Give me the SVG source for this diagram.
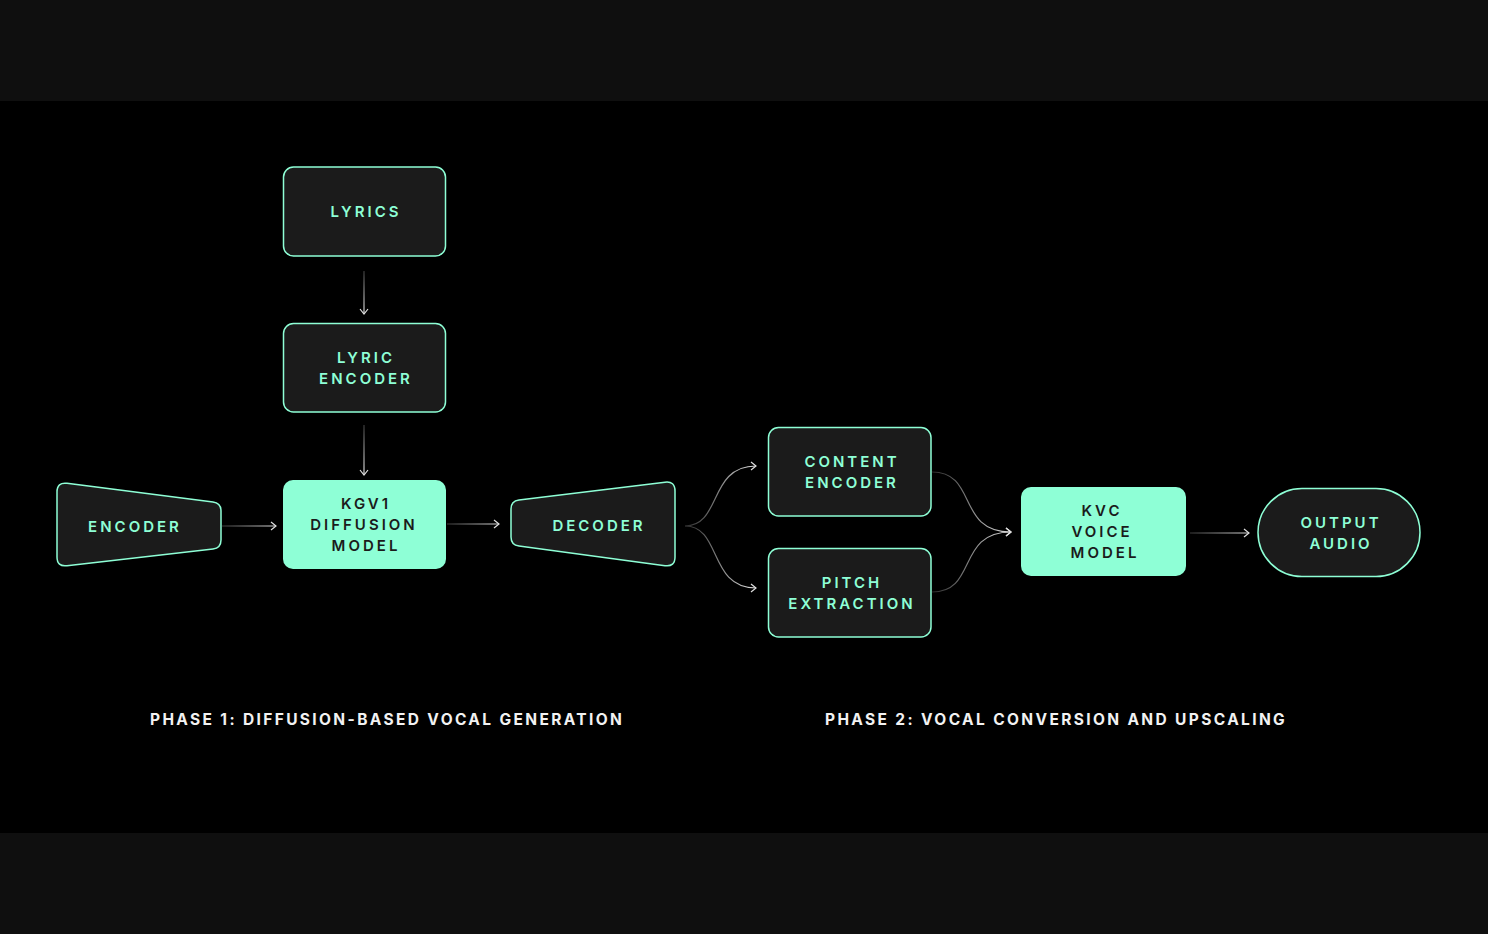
<svg xmlns="http://www.w3.org/2000/svg" width="1488" height="934" viewBox="0 0 1488 934">
<style>
.dark{fill:#1b1b1b;stroke:#8effd6;stroke-width:1.5}
.mint{fill:#8effd6;stroke:none}
.t{font-family:Inter,"Liberation Sans",sans-serif;font-weight:600;font-size:15px;letter-spacing:3px;text-anchor:middle}
.tm{fill:#8effd6}
.td{fill:#1b1b1b}
.ph{font-family:Inter,"Liberation Sans",sans-serif;font-weight:700;font-size:15.5px;letter-spacing:2.36px;fill:#f2f2f2}
.c{fill:none;stroke-width:1.2}
</style>
<defs>
<marker id="ah" viewBox="0 0 10 10" refX="9" refY="5" markerWidth="10" markerHeight="10" markerUnits="userSpaceOnUse" orient="auto">
<path d="M4,1 L9,5 L4,9" fill="none" stroke="#e0e0e0" stroke-width="1.2"/>
</marker>
<linearGradient id="g1" gradientUnits="userSpaceOnUse" x1="364" y1="271" x2="364" y2="314"><stop offset="0" stop-color="#3a3a3a"/><stop offset="1" stop-color="#e0e0e0"/></linearGradient>
<linearGradient id="g2" gradientUnits="userSpaceOnUse" x1="364" y1="425" x2="364" y2="475"><stop offset="0" stop-color="#3a3a3a"/><stop offset="1" stop-color="#e0e0e0"/></linearGradient>
<linearGradient id="g3" gradientUnits="userSpaceOnUse" x1="222" y1="526" x2="276" y2="526"><stop offset="0" stop-color="#3a3a3a"/><stop offset="1" stop-color="#e0e0e0"/></linearGradient>
<linearGradient id="g4" gradientUnits="userSpaceOnUse" x1="447" y1="524" x2="499" y2="524"><stop offset="0" stop-color="#3a3a3a"/><stop offset="1" stop-color="#e0e0e0"/></linearGradient>
<linearGradient id="g5" gradientUnits="userSpaceOnUse" x1="685" y1="0" x2="756" y2="0"><stop offset="0" stop-color="#2a2a2a"/><stop offset="1" stop-color="#e0e0e0"/></linearGradient>
<linearGradient id="g6" gradientUnits="userSpaceOnUse" x1="932" y1="0" x2="1011" y2="0"><stop offset="0" stop-color="#2a2a2a"/><stop offset="1" stop-color="#e0e0e0"/></linearGradient>
<linearGradient id="g7" gradientUnits="userSpaceOnUse" x1="1190" y1="533" x2="1249" y2="533"><stop offset="0" stop-color="#3a3a3a"/><stop offset="1" stop-color="#e0e0e0"/></linearGradient>
</defs>
<rect x="0" y="0" width="1488" height="934" fill="#0f0f0f"/>
<rect x="0" y="101" width="1488" height="732" fill="#000"/>

<g id="connectors">
<path class="c" stroke="url(#g1)" d="M364,271 L364,314" marker-end="url(#ah)"/>
<path class="c" stroke="url(#g2)" d="M364,425 L364,475" marker-end="url(#ah)"/>
<path class="c" stroke="url(#g3)" d="M222,526 L276,526" marker-end="url(#ah)"/>
<path class="c" stroke="url(#g4)" d="M447,524 L499,524" marker-end="url(#ah)"/>
<path class="c" stroke="url(#g5)" d="M685,526 C722,526 708,466 756,466" marker-end="url(#ah)"/>
<path class="c" stroke="url(#g5)" d="M685,526 C722,526 708,588 756,588" marker-end="url(#ah)"/>
<path class="c" stroke="url(#g6)" d="M932,472 C978,472 956,532 1011,532" marker-end="url(#ah)"/>
<path class="c" stroke="url(#g6)" d="M932,592 C978,592 956,532 1011,532" marker-end="url(#ah)"/>
<path class="c" stroke="url(#g7)" d="M1190,533 L1249,533" marker-end="url(#ah)"/>
</g>

<g id="lyrics">
<rect class="dark" x="283.5" y="167" width="162" height="89" rx="10"/>
<text class="t tm" x="366" y="217">LYRICS</text>
</g>
<g id="lyric-encoder">
<rect class="dark" x="283.5" y="323.5" width="162" height="88.5" rx="10"/>
<text class="t tm" x="366" y="363">LYRIC</text>
<text class="t tm" x="366" y="384">ENCODER</text>
</g>
<g id="kgv1">
<rect class="mint" x="283" y="480" width="163" height="89" rx="10"/>
<text class="t td" x="366" y="509">KGV1</text>
<text class="t td" x="364" y="530">DIFFUSION</text>
<text class="t td" x="366" y="551">MODEL</text>
</g>
<g id="encoder">
<path class="dark" d="M57,492 Q57,482 67,483.3 L213,502 Q221,503 221,511 L221,540 Q221,548 213,549 L67,565.7 Q57,567 57,557 Z"/>
<text class="t tm" x="135" y="532">ENCODER</text>
</g>
<g id="decoder">
<path class="dark" d="M511,509 Q511,501 519,500 L665,482.2 Q675,481 675,491 L675,557 Q675,567 665,565.7 L519,546 Q511,545 511,537 Z"/>
<text class="t tm" x="599" y="531">DECODER</text>
</g>
<g id="content-encoder">
<rect class="dark" x="768.5" y="427.5" width="162.5" height="88.5" rx="10"/>
<text class="t tm" x="852" y="467">CONTENT</text>
<text class="t tm" x="852" y="488">ENCODER</text>
</g>
<g id="pitch-extraction">
<rect class="dark" x="768.5" y="548.5" width="162.5" height="88.5" rx="10"/>
<text class="t tm" x="852" y="588">PITCH</text>
<text class="t tm" x="852" y="609">EXTRACTION</text>
</g>
<g id="kvc">
<rect class="mint" x="1021" y="487" width="165" height="89" rx="10"/>
<text class="t td" x="1102" y="516">KVC</text>
<text class="t td" x="1102" y="537">VOICE</text>
<text class="t td" x="1105" y="558">MODEL</text>
</g>
<g id="output-audio">
<rect class="dark" x="1258" y="488.5" width="162" height="88" rx="44"/>
<text class="t tm" x="1341" y="528">OUTPUT</text>
<text class="t tm" x="1341" y="549">AUDIO</text>
</g>

<g id="labels">
<text class="ph" x="150" y="725">PHASE 1: DIFFUSION-BASED VOCAL GENERATION</text>
<text class="ph" x="825" y="725">PHASE 2: VOCAL CONVERSION AND UPSCALING</text>
</g>
</svg>
